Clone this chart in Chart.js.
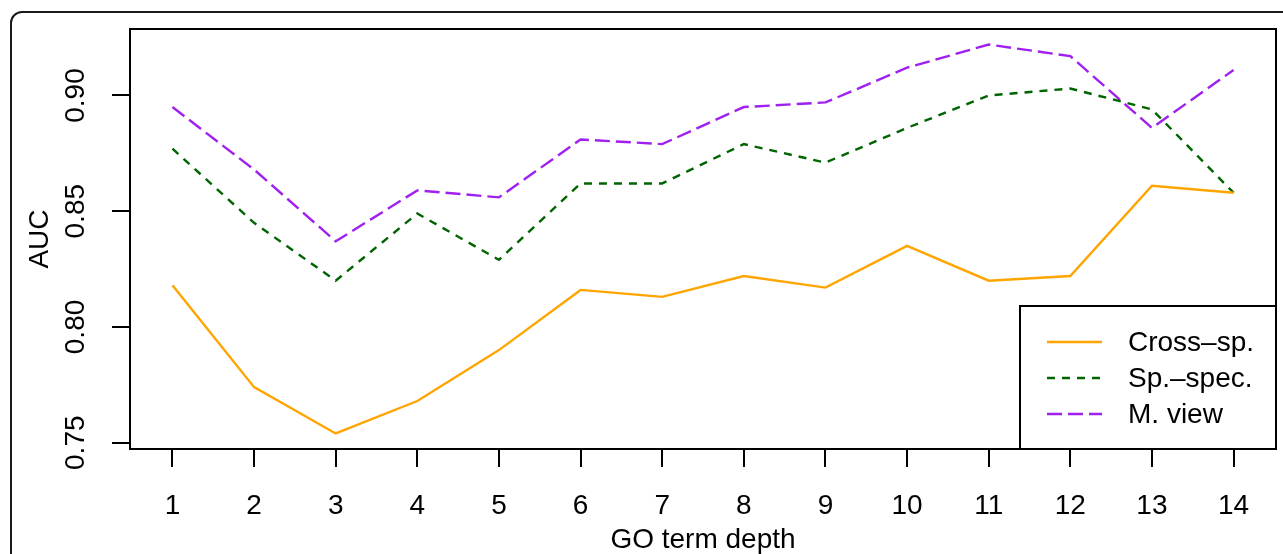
<!DOCTYPE html>
<html>
<head>
<meta charset="utf-8">
<script src="https://cdn.jsdelivr.net/npm/chart.js@4/dist/chart.umd.min.js"></script>
<style>
  html, body { margin: 0; padding: 0; background: #fff; }
  #wrap { width: 1283px; height: 554px; position: relative; }
</style>
</head>
<body>
<div id="wrap"><canvas id="aucChart" width="1283" height="554"></canvas></div>
<script>
// GO term depth (x) and AUC values per method
const depths = [1, 2, 3, 4, 5, 6, 7, 8, 9, 10, 11, 12, 13, 14];
const crossSp = [0.818, 0.774, 0.754, 0.768, 0.790, 0.816, 0.813, 0.822, 0.817, 0.835, 0.820, 0.822, 0.861, 0.858];
const spSpec  = [0.877, 0.845, 0.820, 0.849, 0.829, 0.862, 0.862, 0.879, 0.871, 0.886, 0.900, 0.903, 0.894, 0.858];
const mView   = [0.895, 0.868, 0.837, 0.859, 0.856, 0.881, 0.879, 0.895, 0.897, 0.912, 0.922, 0.917, 0.886, 0.911];

const xTicks = [1, 2, 3, 4, 5, 6, 7, 8, 9, 10, 11, 12, 13, 14];
const yTicks = [0.75, 0.80, 0.85, 0.90];
const yTickLabels = ['0.75', '0.80', '0.85', '0.90'];

const seriesNames = ['Cross\u2013sp.', 'Sp.\u2013spec.', 'M. view'];

const FONT = 'Liberation Sans, Arial, Helvetica, sans-serif';
const FS = 28;

// R-like extended axis range (4% each side)
const xMin = 1 - 13 * 0.04, xMax = 14 + 13 * 0.04;
const yLo = 0.754, yHi = 0.922;
const yMin = yLo - (yHi - yLo) * 0.04, yMax = yHi + (yHi - yLo) * 0.04;

const toPoints = vals => vals.map((v, i) => ({ x: depths[i], y: v }));

// Rahmen, Box und Legende
const framePlugin = {
    id: 'framePlugin',
    beforeDraw(chart) {
        const ctx = chart.ctx;
        ctx.save();
        ctx.fillStyle = '#fff';
        ctx.fillRect(0, 0, chart.width, chart.height);
        ctx.strokeStyle = '#1a1a1a';
        ctx.lineWidth = 2;
        ctx.beginPath();
        ctx.roundRect(11, 12, chart.width + 20, chart.height + 20, 11);
        ctx.stroke();
        ctx.restore();
    },
    afterDraw(chart) {
        const ctx = chart.ctx;
        const a = chart.chartArea;
        ctx.save();
        ctx.strokeStyle = '#000';
        ctx.lineWidth = 2;
        ctx.strokeRect(a.left, a.top, a.right - a.left, a.bottom - a.top);

        // legend box bottom right
        const lx = 1020, ly = 306;
        ctx.fillStyle = '#fff';
        ctx.fillRect(lx, ly, a.right - lx, a.bottom - ly);
        ctx.strokeRect(lx, ly, a.right - lx, a.bottom - ly);

        ctx.font = FS + 'px ' + FONT;
        ctx.textBaseline = 'middle';
        ctx.textAlign = 'left';
        chart.data.datasets.forEach((ds, i) => {
            const y = 342 + i * 36;
            ctx.strokeStyle = ds.borderColor;
            ctx.lineWidth = ds.borderWidth;
            ctx.setLineDash(ds.borderDash || []);
            ctx.beginPath();
            ctx.moveTo(1047, y);
            ctx.lineTo(1102, y);
            ctx.stroke();
            ctx.setLineDash([]);
            ctx.fillStyle = '#000';
            ctx.fillText(ds.label, 1128, y + 1);
        });
        ctx.restore();
    }
};

const ctx = document.getElementById('aucChart').getContext('2d');
const chart = new Chart(ctx, {
    type: 'line',
    data: {
        datasets: [{
            label: seriesNames[0],
            data: toPoints(crossSp),
            borderColor: '#FFA500',
            borderWidth: 2.4,
            pointRadius: 0,
            tension: 0
        }, {
            label: seriesNames[1],
            data: toPoints(spSpec),
            borderColor: '#006400',
            borderWidth: 2.4,
            borderDash: [8, 7],
            pointRadius: 0,
            tension: 0
        }, {
            label: seriesNames[2],
            data: toPoints(mView),
            borderColor: '#A020F0',
            borderWidth: 2.4,
            borderDash: [15, 6],
            pointRadius: 0,
            tension: 0
        }]
    },
    options: {
        responsive: false,
        animation: false,
        events: [],
        layout: { padding: { top: 29, right: 7, left: 0, bottom: 0 } },
        plugins: {
            legend: { display: false },
            tooltip: { enabled: false }
        },
        scales: {
            x: {
                type: 'linear',
                min: xMin,
                max: xMax,
                afterBuildTicks: s => { s.ticks = xTicks.map(v => ({ value: v })); },
                afterFit: s => { s.height = 105; },
                grid: {
                    drawOnChartArea: false,
                    drawTicks: true,
                    tickLength: 18,
                    color: '#000',
                    lineWidth: 2
                },
                border: { display: false },
                ticks: {
                    autoSkip: false,
                    maxRotation: 0,
                    padding: 22,
                    color: '#000',
                    font: { family: FONT, size: FS },
                    callback: v => String(v)
                },
                title: {
                    display: true,
                    text: 'GO term depth',
                    color: '#000',
                    font: { family: FONT, size: FS, lineHeight: 1 },
                    padding: { top: 0, bottom: 0 }
                }
            },
            y: {
                type: 'linear',
                min: yMin,
                max: yMax,
                afterBuildTicks: s => { s.ticks = yTicks.map(v => ({ value: v })); },
                afterFit: s => { s.width = 130; },
                grid: {
                    drawOnChartArea: false,
                    drawTicks: true,
                    tickLength: 18,
                    color: '#000',
                    lineWidth: 2
                },
                border: { display: false },
                ticks: {
                    autoSkip: false,
                    minRotation: 90,
                    maxRotation: 90,
                    crossAlign: 'center',
                    padding: 8,
                    color: '#000',
                    font: { family: FONT, size: FS },
                    callback: (v, i) => yTickLabels[i]
                },
                title: {
                    display: true,
                    text: 'AUC',
                    color: '#000',
                    font: { family: FONT, size: FS, lineHeight: 1 },
                    padding: { top: 26, bottom: 0 }
                }
            }
        }
    },
    plugins: [framePlugin]
});
</script>
</body>
</html>
